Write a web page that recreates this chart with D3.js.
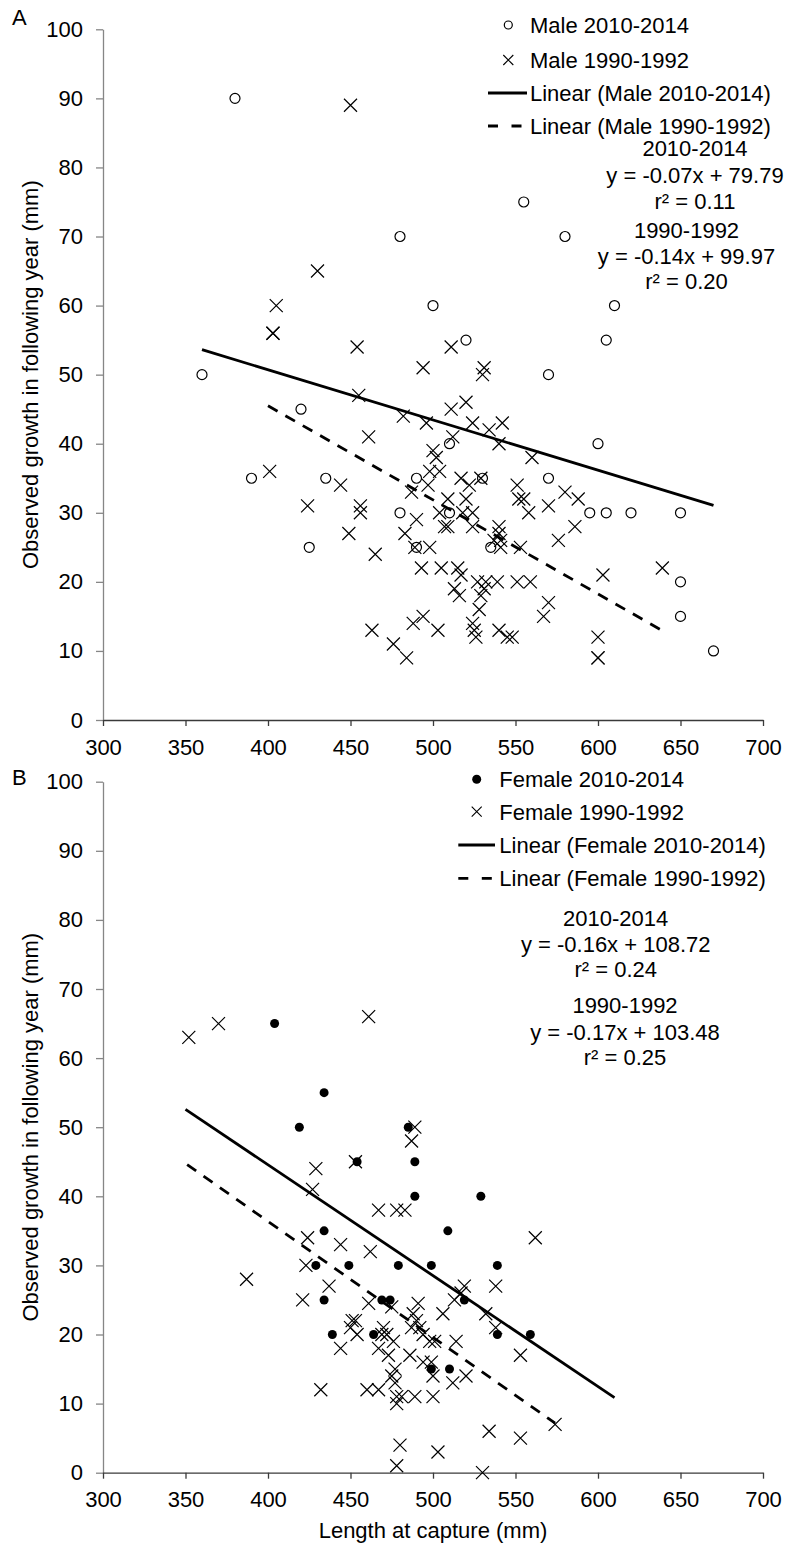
<!DOCTYPE html>
<html>
<head>
<meta charset="utf-8">
<script src="https://cdn.jsdelivr.net/npm/d3@7"></script>
<style>
  html, body { margin: 0; padding: 0; background: #fff; }
  svg { display: block; }
  text { font-family: "Liberation Sans", Arial, sans-serif; }
</style>
</head>
<body>
<svg id="chart" width="787" height="1544"></svg>
<script>
// ---------- DATA ----------
const xTicks = [300, 350, 400, 450, 500, 550, 600, 650, 700];
const yTicks = [0, 10, 20, 30, 40, 50, 60, 70, 80, 90, 100];

// Panel A – Male 2010-2014 (open circles)
const maleNewLength = [380, 480, 555, 580, 500, 610, 520, 605, 360, 570, 420, 510, 600, 390, 435, 490, 530, 570, 480, 510, 595, 605, 620, 650, 425, 490, 535, 650, 650, 670];
const maleNewGrowth = [90, 70, 75, 70, 60, 60, 55, 55, 50, 50, 45, 40, 40, 35, 35, 35, 35, 35, 30, 30, 30, 30, 30, 30, 25, 25, 25, 20, 15, 10];

// Panel A – Male 1990-1992 (crosses)
const maleOldLength = [450, 430, 405, 403, 403, 454, 511, 494, 531, 530, 455, 520, 511, 482, 496, 524, 542, 534, 461, 512, 540, 560, 500, 502, 401, 498, 504, 517, 529, 444, 497, 522, 551, 487, 580, 424, 456, 570, 588, 552, 555, 520, 509, 456, 504, 518, 524, 558, 490, 507, 509, 524, 540, 586, 449, 483, 540, 541, 537, 576, 465, 489, 498, 541, 553, 493, 505, 515, 517, 603, 639, 527, 532, 539, 551, 559, 513, 531, 516, 529, 570, 528, 567, 494, 488, 524, 503, 525, 540, 463, 526, 545, 548, 600, 476, 484, 600, 600];
const maleOldGrowth = [89, 65, 60, 56, 56, 54, 54, 51, 51, 50, 47, 46, 45, 44, 43, 43, 43, 42, 41, 41, 40, 38, 39, 38, 36, 36, 36, 35, 35, 34, 34, 34, 34, 33, 33, 31, 31, 31, 32, 32, 32, 32, 32, 30, 30, 30, 30, 30, 29, 28, 28, 28, 28, 28, 27, 27, 27, 26, 26, 26, 24, 25, 25, 25, 25, 22, 22, 22, 21, 21, 22, 20, 20, 20, 20, 20, 19, 19, 18, 18, 17, 16, 15, 15, 14, 14, 13, 13, 13, 13, 12, 12, 12, 12, 11, 9, 9, 9];

// Panel B – Female 2010-2014 (filled dots)
const femaleNewLength = [404, 434, 419, 485, 454, 489, 489, 529, 434, 509, 429, 449, 479, 499, 539, 434, 469, 474, 519, 439, 464, 539, 559, 499, 510];
const femaleNewGrowth = [65, 55, 50, 50, 45, 45, 40, 40, 35, 35, 30, 30, 30, 30, 30, 25, 25, 25, 25, 20, 20, 20, 20, 15, 15];

// Panel B – Female 1990-1992 (crosses)
const femaleOldLength = [352, 370, 461, 489, 487, 453, 429, 427, 467, 478, 483, 424, 562, 444, 462, 423, 387, 519, 517, 538, 437, 421, 461, 491, 513, 475, 506, 532, 538, 451, 453, 450, 454, 470, 469, 472, 488, 490, 487, 492, 494, 476, 498, 501, 514, 444, 467, 473, 486, 553, 494, 499, 477, 475, 500, 520, 477, 512, 432, 460, 467, 478, 481, 489, 500, 478, 574, 534, 553, 480, 503, 478, 530];
const femaleOldGrowth = [63, 65, 66, 50, 48, 45, 44, 41, 38, 38, 38, 34, 34, 33, 32, 30, 28, 27, 26, 27, 27, 25, 24.5, 24.5, 25, 24, 23, 23, 21, 22, 22, 21, 20, 21, 20, 20, 23, 22, 21, 21, 20, 19, 19, 19, 19, 18, 18, 17, 17, 17, 16, 16, 15, 14, 14, 14, 13, 13, 12, 12, 12, 11, 11, 11, 11, 10, 7, 6, 5, 4, 3, 1, 0];

// Linear trend lines: [A 2010-2014, A 1990-1992, B 2010-2014, B 1990-1992]
const trendSlope     = [-0.0727, -0.1362, -0.1604, -0.1678];
const trendIntercept = [79.79, 99.97, 108.72, 103.48];
const trendStart     = [360, 400, 350, 351];
const trendEnd       = [670, 639, 610, 574];

// Texts
const legendA = ["Male 2010-2014", "Male 1990-1992", "Linear (Male 2010-2014)", "Linear (Male 1990-1992)"];
const legendB = ["Female 2010-2014", "Female 1990-1992", "Linear (Female 2010-2014)", "Linear (Female 1990-1992)"];
const eqA1 = ["2010-2014", "y = -0.07x + 79.79", "r\u00b2 = 0.11"];
const eqA2 = ["1990-1992", "y = -0.14x + 99.97", "r\u00b2 = 0.20"];
const eqB1 = ["2010-2014", "y = -0.16x + 108.72", "r\u00b2 = 0.24"];
const eqB2 = ["1990-1992", "y = -0.17x + 103.48", "r\u00b2 = 0.25"];
const yTitle = "Observed growth in following year (mm)";
const xTitle = "Length at capture (mm)";

// ---------- DRAW ----------
const FS = 22;
const FONT = "Liberation Sans, Arial, sans-serif";
const svg = d3.select("#chart");
const x = d3.scaleLinear().domain([300, 700]).range([103, 763]);
const yA = d3.scaleLinear().domain([0, 100]).range([720, 29.3]);
const yB = d3.scaleLinear().domain([0, 100]).range([1472.7, 781.7]);

function zip(a, b) { return a.map((v, i) => [v, b[i]]); }

function drawAxes(y) {
  const gy = svg.append("g")
    .attr("transform", `translate(${x.range()[0]},0)`)
    .call(d3.axisLeft(y).tickValues(yTicks).tickSize(7).tickPadding(13).tickSizeOuter(0));
  gy.attr("font-size", FS).attr("font-family", FONT);
  gy.select(".domain").attr("stroke", "#868686").attr("stroke-width", 1.3);
  gy.selectAll(".tick line").attr("stroke", "#868686").attr("stroke-width", 1.3);
  gy.selectAll(".tick text").attr("fill", "#000");

  const gx = svg.append("g")
    .attr("transform", `translate(0,${y(0)})`)
    .call(d3.axisBottom(x).tickValues(xTicks).tickSize(6).tickPadding(13).tickSizeOuter(0));
  gx.attr("font-size", FS).attr("font-family", FONT);
  gx.select(".domain").attr("stroke", "#3a3a3a").attr("stroke-width", 1.3);
  gx.selectAll(".tick line").attr("stroke", "#3a3a3a").attr("stroke-width", 1.3);
  gx.selectAll(".tick text").attr("fill", "#000");

  const cy = (y.range()[0] + y.range()[1]) / 2;
  svg.append("text")
    .attr("transform", `translate(38,${cy}) rotate(-90)`)
    .attr("text-anchor", "middle").attr("font-size", FS).attr("fill", "#000")
    .text(yTitle);
}

function drawCircles(data, y, r) {
  svg.append("g").selectAll("circle").data(data).join("circle")
    .attr("cx", d => x(d[0])).attr("cy", d => y(d[1])).attr("r", r)
    .attr("fill", "none").attr("stroke", "#000").attr("stroke-width", 1.2);
}
function drawDots(data, y, r) {
  svg.append("g").selectAll("circle").data(data).join("circle")
    .attr("cx", d => x(d[0])).attr("cy", d => y(d[1])).attr("r", r)
    .attr("fill", "#000");
}
function crossPath(cx, cy, s) {
  return `M${cx - s},${cy - s}L${cx + s},${cy + s}M${cx - s},${cy + s}L${cx + s},${cy - s}`;
}
function drawCrosses(data, y, s) {
  svg.append("g").selectAll("path").data(data).join("path")
    .attr("d", d => crossPath(x(d[0]), y(d[1]), s))
    .attr("fill", "none").attr("stroke", "#000").attr("stroke-width", 1.2);
}
function drawTrend(i, y, dashed) {
  const pts = [trendStart[i], trendEnd[i]].map(v => [v, trendSlope[i] * v + trendIntercept[i]]);
  const line = d3.line().x(d => x(d[0])).y(d => y(d[1]));
  svg.append("path").attr("d", line(pts))
    .attr("fill", "none").attr("stroke", "#000").attr("stroke-width", 2.8)
    .attr("stroke-dasharray", dashed ? "11,9" : null);
}
function drawLegend(labels, mx, tx, rows, lx0, lx1, markerType) {
  const g = svg.append("g");
  if (markerType === "circle") {
    g.append("circle").attr("cx", mx).attr("cy", rows[0]).attr("r", 4)
      .attr("fill", "none").attr("stroke", "#000").attr("stroke-width", 1.2);
  } else {
    g.append("circle").attr("cx", mx).attr("cy", rows[0]).attr("r", 4.5).attr("fill", "#000");
  }
  g.append("path").attr("d", crossPath(mx, rows[1], 5))
    .attr("stroke", "#000").attr("stroke-width", 1.1).attr("fill", "none");
  g.append("line").attr("x1", lx0).attr("x2", lx1).attr("y1", rows[2]).attr("y2", rows[2])
    .attr("stroke", "#000").attr("stroke-width", 2.8);
  g.append("line").attr("x1", lx0).attr("x2", lx1).attr("y1", rows[3]).attr("y2", rows[3])
    .attr("stroke", "#000").attr("stroke-width", 2.8).attr("stroke-dasharray", "10,13.5");
  labels.forEach((t, i) => {
    g.append("text").attr("x", tx).attr("y", rows[i]).attr("dy", "0.36em")
      .attr("font-size", FS).attr("fill", "#000").text(t);
  });
}
function drawEq(lines, cx, ys) {
  lines.forEach((t, i) => {
    svg.append("text").attr("x", cx).attr("y", ys[i]).attr("dy", "0.36em")
      .attr("text-anchor", "middle").attr("font-size", FS).attr("fill", "#000").text(t);
  });
}

// Panel A
drawAxes(yA);
drawCircles(zip(maleNewLength, maleNewGrowth), yA, 5);
drawCrosses(zip(maleOldLength, maleOldGrowth), yA, 6.5);
drawTrend(0, yA, false);
drawTrend(1, yA, true);
drawLegend(legendA, 508.3, 530, [25, 60, 93, 126], 488, 527, "circle");
drawEq(eqA1, 695, [148, 175, 201.5]);
drawEq(eqA2, 686.5, [230, 256.5, 281.5]);
svg.append("text").attr("x", 12).attr("y", 25).attr("font-size", FS).attr("fill", "#000").text("A");

// Panel B
drawAxes(yB);
drawCrosses(zip(femaleOldLength, femaleOldGrowth), yB, 6.5);
drawDots(zip(femaleNewLength, femaleNewGrowth), yB, 4.5);
drawTrend(2, yB, false);
drawTrend(3, yB, true);
drawLegend(legendB, 476.7, 499.3, [779.3, 811.7, 845, 878.3], 458.3, 495, "dot");
drawEq(eqB1, 615.7, [918.3, 944, 969.3]);
drawEq(eqB2, 625, [1005, 1031.7, 1056.7]);
svg.append("text").attr("x", 12).attr("y", 785).attr("font-size", FS).attr("fill", "#000").text("B");

// X title
svg.append("text").attr("x", (x.range()[0] + x.range()[1]) / 2).attr("y", 1530).attr("dy", "0.36em")
  .attr("text-anchor", "middle").attr("font-size", FS).attr("fill", "#000").text(xTitle);
</script>
</body>
</html>
